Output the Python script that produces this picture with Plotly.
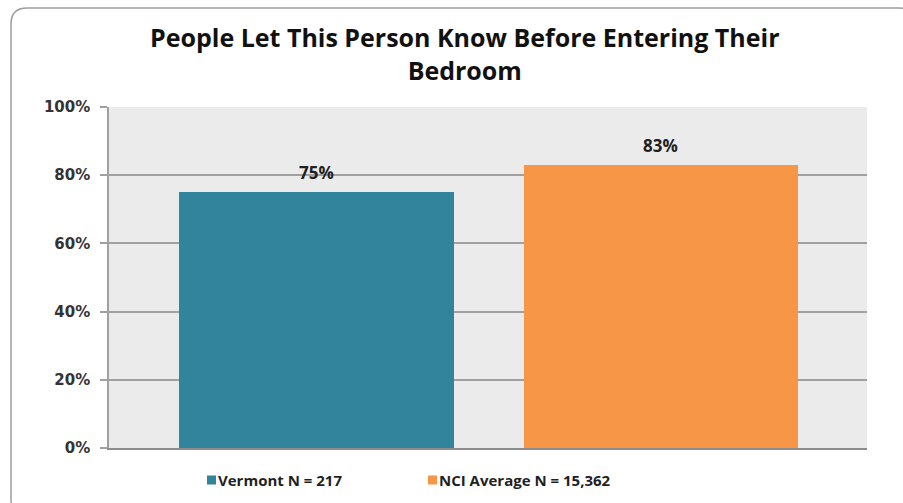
import plotly.graph_objects as go

# Series shown in the chart
series_names = ["Vermont N = 217", "NCI Average N = 15,362"]
series_values = [75, 83]
series_colors = ["#31849B", "#F79646"]
bar_positions = [0.2737, 0.728]
bar_width = 0.362

tick_values = [0, 20, 40, 60, 80, 100]
tick_labels = ["0%", "20%", "40%", "60%", "80%", "100%"]

title_text = "People Let This Person Know Before Entering Their<br>Bedroom"

W, H = 903, 503
ML, MR, MT, MB = 109, 36, 107, 55
FONT = "Open Sans"
TEXT = "#1f1f1f"

pw, ph = W - ML - MR, H - MT - MB
def px(x):
    return (x - ML) / pw
def py(y):
    return (H - MB - y) / ph

fig = go.Figure()
for name, val, col, pos in zip(series_names, series_values, series_colors, bar_positions):
    fig.add_trace(go.Bar(
        x=[pos], y=[val], width=[bar_width], name=name,
        marker=dict(color=col, line=dict(width=0)),
        hoverinfo="skip", showlegend=False,
    ))
    fig.add_annotation(
        x=pos, y=val, xref="x", yref="y", text=f"<b>{val}%</b>",
        showarrow=False, yanchor="bottom", yshift=6,
        font=dict(family=FONT, size=17, color=TEXT),
    )

# Legend drawn below the plot: swatch + label per series
legend_x = [207, 428]
legend_y = 480
for name, col, lx in zip(series_names, series_colors, legend_x):
    fig.add_shape(type="rect", xref="paper", yref="paper",
                  x0=px(lx), x1=px(lx + 9), y0=py(legend_y + 4.5), y1=py(legend_y - 4.5),
                  fillcolor=col, line=dict(width=0))
    fig.add_annotation(x=px(lx + 9), y=py(legend_y), xref="paper", yref="paper",
                       text=f"<b>{name}</b>", showarrow=False,
                       xanchor="left", yanchor="middle",
                       font=dict(family=FONT, size=15, color=TEXT))

# Title
fig.add_annotation(x=px(465), y=py(54), xref="paper", yref="paper",
                   text=f"<b>{title_text}</b>", showarrow=False,
                   xanchor="center", yanchor="middle", align="center",
                   font=dict(family=FONT, size=25, color="#111111"))

# Rounded outer frame of the chart
left, top, right, bottom, r = 11, 8, 915, 515, 16
path = (f"M {px(left)},{py(bottom - r)} "
        f"L {px(left)},{py(top + r)} "
        f"Q {px(left)},{py(top)} {px(left + r)},{py(top)} "
        f"L {px(right - r)},{py(top)} "
        f"Q {px(right)},{py(top)} {px(right)},{py(top + r)} "
        f"L {px(right)},{py(bottom - r)} "
        f"Q {px(right)},{py(bottom)} {px(right - r)},{py(bottom)} "
        f"L {px(left + r)},{py(bottom)} "
        f"Q {px(left)},{py(bottom)} {px(left)},{py(bottom - r)} Z")
fig.add_shape(type="path", path=path, xref="paper", yref="paper",
              line=dict(color="#9E9E9E", width=1.5), layer="below")

fig.update_layout(
    width=W, height=H,
    margin=dict(l=ML, r=MR, t=MT, b=MB, autoexpand=False),
    paper_bgcolor="white", plot_bgcolor="#EBEBEB",
    showlegend=False,
    bargap=0,
    font=dict(family=FONT),
)
fig.update_xaxes(range=[0, 1], showticklabels=False, showgrid=False,
                 zeroline=False, showline=True, linecolor="#8C8C8C",
                 linewidth=2, ticks="", fixedrange=True)
fig.update_yaxes(range=[0, 100], tickvals=tick_values, ticktext=tick_labels,
                 showgrid=True, gridcolor="#A0A0A0", gridwidth=1.5,
                 zeroline=False, showline=True, linecolor="#A0A0A0",
                 linewidth=1.5, ticks="outside", ticklen=7,
                 tickcolor="#A0A0A0", tickwidth=1.5,
                 tickfont=dict(family="DejaVu Sans", size=15, color="#333333", weight="bold"),
                 ticklabelstandoff=7)

fig.write_html("out.html")
